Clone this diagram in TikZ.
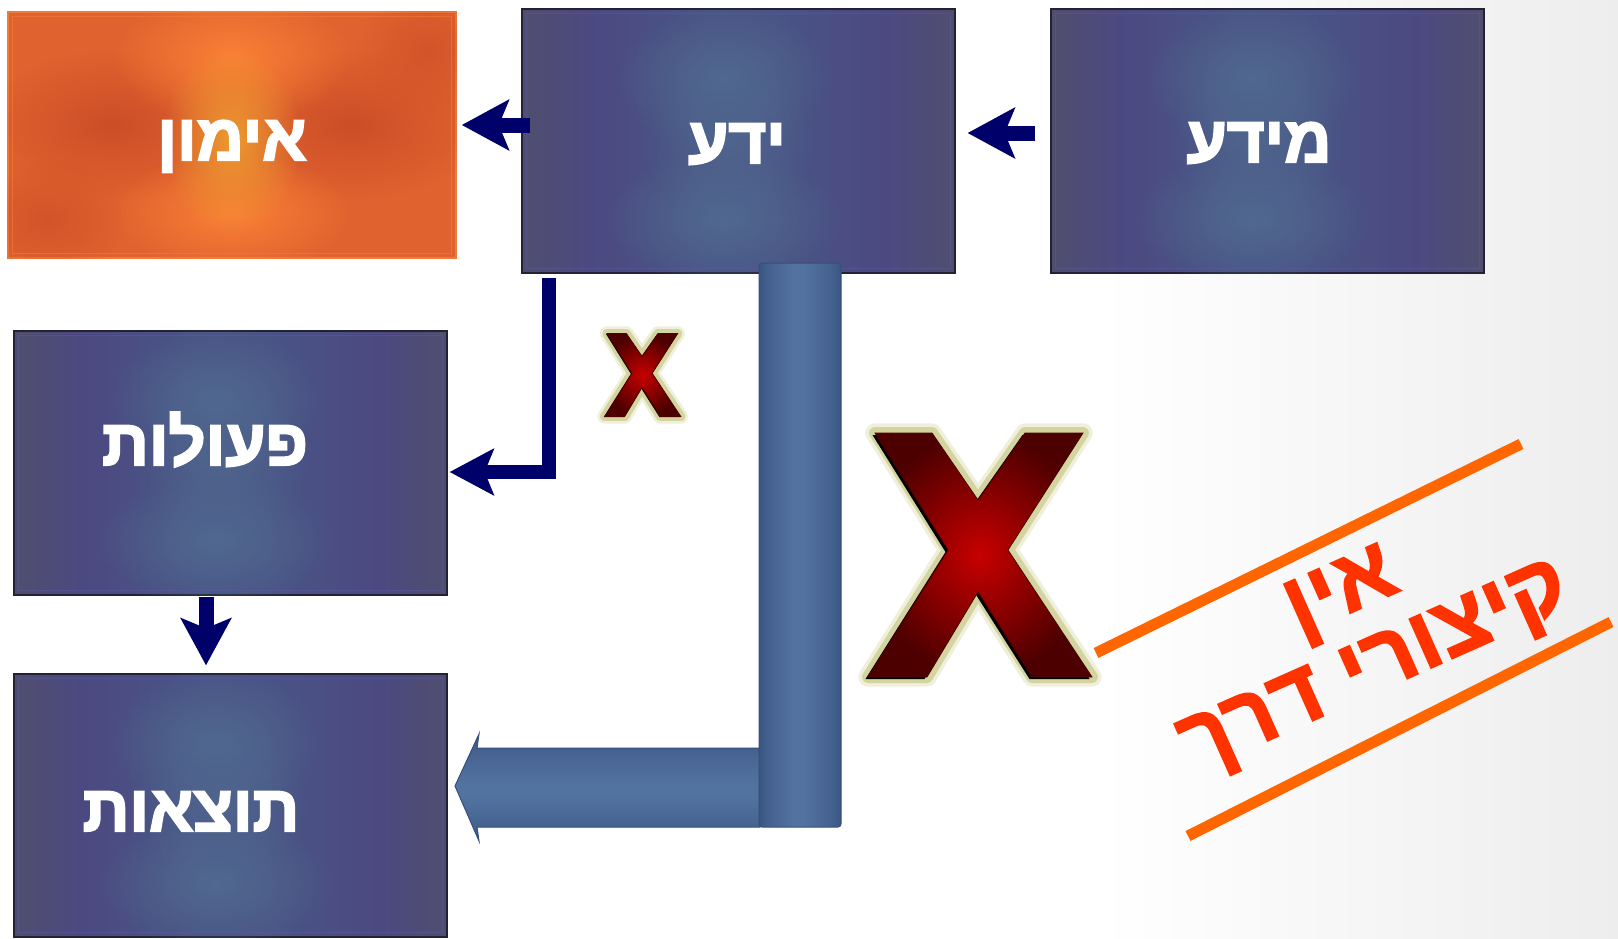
\documentclass[tikz,border=0pt]{standalone}
\usepackage{fontspec}
\usetikzlibrary{arrows.meta,calc,fadings}
\TeXXeTstate=1
\newfontfamily\hebbold[Script=Hebrew,FakeBold=3.2]{Liberation Sans Bold}
\newfontfamily\hebsign[Script=Hebrew,FakeBold=2]{Liberation Sans Bold}

% palette
\definecolor{pbEdge}{HTML}{504E6E}
\definecolor{pbPurple}{HTML}{4B4981}
\definecolor{pbMid}{HTML}{4A5486}
\definecolor{pbSpot}{HTML}{50698F}
\definecolor{pbFrame}{HTML}{5A5AA0}
\definecolor{pbBorder}{HTML}{222234}
\definecolor{poBase}{HTML}{E0622F}
\definecolor{poDark}{HTML}{CC4E28}
\definecolor{poBright}{HTML}{FA8036}
\definecolor{poCore}{HTML}{EC9A30}
\definecolor{poBorder}{HTML}{F07C3A}
\definecolor{navy}{HTML}{00006A}
\definecolor{steelEdge}{HTML}{3A5582}
\definecolor{steelMid}{HTML}{45628F}
\definecolor{steelLight}{HTML}{5272A0}
\definecolor{steelLine}{HTML}{33507C}
\definecolor{signRed}{HTML}{FF3300}
\definecolor{signBar}{HTML}{FF6600}
\definecolor{crossCore}{HTML}{C80000}
\definecolor{crossRim}{HTML}{4C0000}
\definecolor{crossGlow}{HTML}{D2D29A}

% soft round spot used to light up the panels
\tikzfading[name=softspot, inner color=transparent!0, outer color=transparent!100]

% blue panel base: slate edges, violet body, bluish centre column
\pgfdeclarehorizontalshading{panelblue}{100bp}{color(0bp)=(pbEdge); color(25bp)=(pbEdge); color(33bp)=(pbPurple); color(46bp)=(pbMid); color(54bp)=(pbMid); color(67bp)=(pbPurple); color(75bp)=(pbEdge); color(100bp)=(pbEdge)}
% tube fills for the big bent arrow
\pgfdeclarehorizontalshading{tubeacross}{100bp}{color(0bp)=(steelEdge); color(25bp)=(steelEdge); color(31bp)=(steelMid); color(46bp)=(steelLight); color(52bp)=(steelLight); color(68bp)=(steelMid); color(75bp)=(steelEdge); color(100bp)=(steelEdge)}
\pgfdeclareverticalshading{tubealong}{100bp}{color(0bp)=(steelEdge); color(25bp)=(steelEdge); color(31bp)=(steelMid); color(46bp)=(steelLight); color(52bp)=(steelLight); color(68bp)=(steelMid); color(75bp)=(steelEdge); color(100bp)=(steelEdge)}

% lighting of a blue panel, #1 = node name
\newcommand\lightpanel[1]{%
  \begin{scope}
    \clip (#1.north west) rectangle (#1.south east);
    \fill[pbSpot, path fading=softspot] ($(#1.north)+(-15,70)$) ellipse [x radius=110, y radius=75];
    \fill[pbSpot, path fading=softspot, opacity=.8] ($(#1.center)+(-10,0)$) ellipse [x radius=90, y radius=80];
    \fill[pbSpot, path fading=softspot] ($(#1.south)+(-15,-55)$) ellipse [x radius=120, y radius=70];
  \end{scope}
  \draw[pbFrame, opacity=.5, line width=1pt] ($(#1.north west)+(5,5)$) rectangle ($(#1.south east)+(-5,-5)$);
}

% red X sign, centred at the origin of the current scope; #1 = glow width
\newcommand\redcross[1]{%
  \draw[crossGlow, line width=#1*1.6pt, line join=round, opacity=.35]
    (-103,-122) -- (-46,-122) -- (0,-55) -- (47,-122) -- (105,-122) -- (30,-5) -- (114,122) -- (54,122) -- (0,37) -- (-51,122) -- (-110,122) -- (-30,-5) -- cycle;
  \draw[crossGlow, line width=#1pt, line join=round, opacity=.9]
    (-103,-122) -- (-46,-122) -- (0,-55) -- (47,-122) -- (105,-122) -- (30,-5) -- (114,122) -- (54,122) -- (0,37) -- (-51,122) -- (-110,122) -- (-30,-5) -- cycle;
  \fill[black, shift={(-2.5,2)}]
    (-103,-122) -- (-46,-122) -- (0,-55) -- (47,-122) -- (105,-122) -- (30,-5) -- (114,122) -- (54,122) -- (0,37) -- (-51,122) -- (-110,122) -- (-30,-5) -- cycle;
  \shade[inner color=crossCore, outer color=crossRim, draw=crossRim, line width=.8pt]
    (-103,-122) -- (-46,-122) -- (0,-55) -- (47,-122) -- (105,-122) -- (30,-5) -- (114,122) -- (54,122) -- (0,37) -- (-51,122) -- (-110,122) -- (-30,-5) -- cycle;
}

\begin{document}
\begin{tikzpicture}[x=1pt,y=-1pt,
  panel/.style={rectangle, inner sep=0pt, shading=panelblue, draw=pbBorder, line width=1.2pt},
  hotpanel/.style={rectangle, inner sep=0pt, fill=poBase, draw=poBorder, line width=1.5pt},
  caption/.style={anchor=base, text=white, font=\hebbold\fontsize{65}{70}\selectfont},
  flow/.style={draw=navy, line width=15pt, -{Stealth[length=47pt,width=50pt,inset=10pt]}},
  bent/.style={draw=navy, line width=14pt, line join=miter, -{Stealth[length=44pt,width=46pt,inset=9pt]}},
  signbar/.style={draw=signBar, line width=11pt},
  signtext/.style={rotate=24, text=signRed, align=center, font=\hebsign\fontsize{88}{83}\selectfont}
]
\useasboundingbox (0,0) rectangle (1618,938);
\fill[white] (0,0) rectangle (1618,938);
\shade[left color=white, right color=black!7] (1100,0) rectangle (1618,938);

% panels
\node[hotpanel, minimum width=448pt, minimum height=246pt] (emun) at (232,135) {};
\begin{scope}
  \clip (emun.north west) rectangle (emun.south east);
  \fill[poDark, path fading=softspot] ($(emun.center)+(-120,-10)$) ellipse [x radius=130, y radius=75];
  \fill[poDark, path fading=softspot] ($(emun.center)+(120,-10)$) ellipse [x radius=130, y radius=75];
  \fill[poDark, path fading=softspot, opacity=.7] ($(emun.south west)+(40,-40)$) ellipse [x radius=80, y radius=60];
  \fill[poDark, path fading=softspot, opacity=.7] ($(emun.north east)+(-30,40)$) ellipse [x radius=70, y radius=60];
  \fill[poBright, path fading=softspot] ($(emun.north)+(0,45)$) ellipse [x radius=120, y radius=70];
  \fill[poBright, path fading=softspot] ($(emun.south)+(0,-45)$) ellipse [x radius=120, y radius=60];
  \fill[poCore, path fading=softspot] ($(emun.center)+(0,5)$) ellipse [x radius=70, y radius=95];
\end{scope}
\draw[poBorder, opacity=.6, line width=1pt] ($(emun.north west)+(5,5)$) rectangle ($(emun.south east)+(-5,-5)$);

\node[panel, minimum width=433pt, minimum height=264pt] (yeda) at (738.5,141) {};
\node[panel, minimum width=433pt, minimum height=264pt] (meyda) at (1267.5,141) {};
\node[panel, minimum width=433pt, minimum height=264pt] (peulot) at (230.5,463) {};
\node[panel, minimum width=433pt, minimum height=263pt] (totsaot) at (230.5,805.5) {};
\lightpanel{yeda}
\lightpanel{meyda}
\lightpanel{peulot}
\lightpanel{totsaot}

% captions
\node[caption] (emunT) at (232,160) {\beginR אימון\endR};
\node[caption] (yedaT) at (737,163) {\beginR ידע\endR};
\node[caption] (meydaT) at (1259,162) {\beginR מידע\endR};
\node[caption] (peulotT) at (205,465) {\beginR פעולות\endR};
\node[caption] (totsaotT) at (191,831) {\beginR תוצאות\endR};

% straight connectors
\coordinate (meydaOut) at ($(meyda.west)+(-15,-8)$);
\coordinate (yedaIn) at ($(yeda.east)+(12,-8)$);
\coordinate (yedaOut) at ($(yeda.west)+(9,-16)$);
\coordinate (emunIn) at ($(emun.east)+(5,-10)$);
\draw[flow] (meydaOut) -- (yedaIn);
\draw[flow] (yedaOut) -- (emunIn);

\coordinate (yedaDown) at ($(yeda.south west)+(28,4)$);
\coordinate (peulotIn) at ($(peulot.east)+(2,9)$);
\draw[bent] (yedaDown) |- (peulotIn);

\coordinate (peulotOut) at ($(peulot.south)+(-24.5,1)$);
\coordinate (totsaotIn) at ($(totsaot.north)+(-24.5,-8)$);
\draw[flow] (peulotOut) -- (totsaotIn);

% big bent tube arrow towards the results panel
\shade[shading=tubealong, draw=steelLine, line width=1pt]
  (760,748) -- (477,748) -- (479,734) -- (455,786) -- (479,841) -- (477,827) -- (760,827) -- cycle;
\shade[shading=tubeacross, draw=steelLine, line width=1pt, rounded corners=3pt]
  (759,263) rectangle (841,827);

% red X signs
\begin{scope}[shift={(642,375)}, scale=0.34]
  \redcross{9}
\end{scope}
\begin{scope}[shift={(978,555)}]
  \redcross{12}
\end{scope}

% crossed-out caption
\coordinate (barA1) at (1096,653);
\coordinate (barA2) at (1521,444);
\coordinate (barB1) at (1188,836);
\coordinate (barB2) at (1611,622);
\draw[signbar] (barA1) -- (barA2);
\draw[signbar] (barB1) -- (barB2);
\node[signtext] (signT) at (1360,634) {\beginR אין\endR\\\beginR קיצורי דרך\endR};
\end{tikzpicture}
\end{document}
